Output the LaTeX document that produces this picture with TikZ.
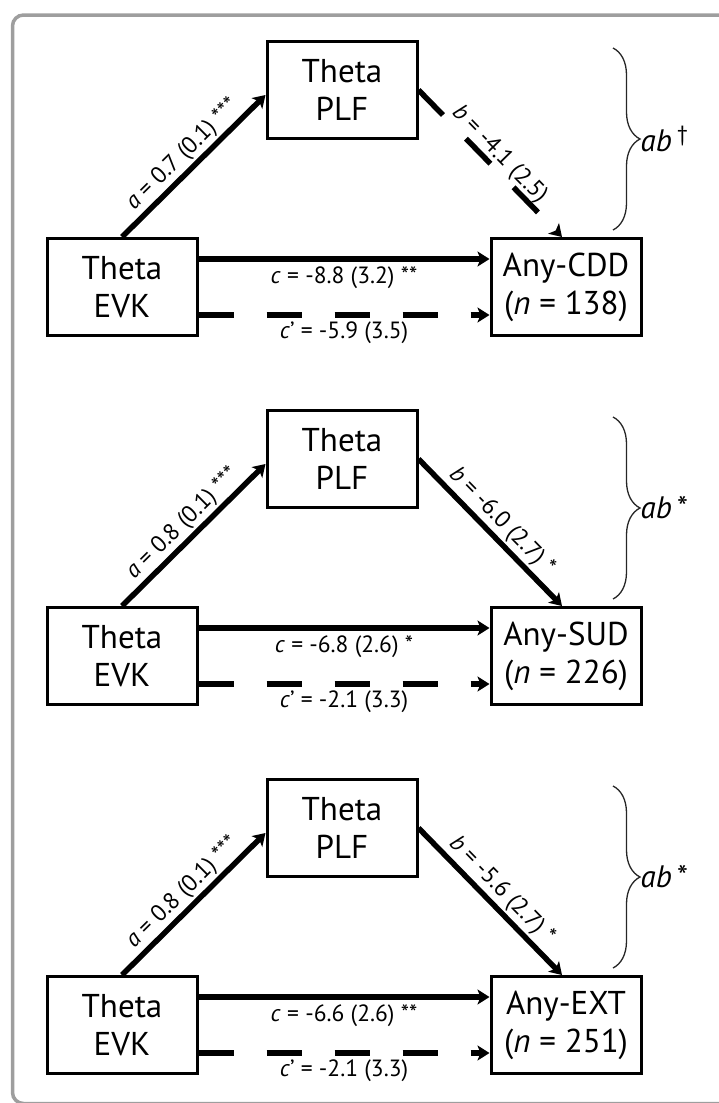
\documentclass[tikz,border=0pt]{standalone}
\usepackage{fontspec}
\setmainfont{PT Sans}
\usetikzlibrary{arrows.meta,decorations.pathreplacing}

\begin{document}
\begin{tikzpicture}[x=1pt, y=-1pt,
  box/.style={draw, line width=3pt, minimum width=150pt, minimum height=97pt,
    align=center, inner sep=0pt, font=\fontsize{33}{38}\selectfont},
  link/.style={line width=5.5pt, -{Stealth[length=12pt, width=15pt, inset=3pt]}},
  linkdash/.style={link, dash pattern=on 35pt off 33pt},
  lab/.style={font=\fontsize{23.5}{26}\selectfont, inner sep=1pt},
  brace/.style={decorate, decoration={brace, amplitude=27pt}, line width=1.3pt, black!85},
  abtext/.style={font=\fontsize{31}{34}\selectfont\itshape, inner sep=1pt, black}]

% 边框
\useasboundingbox (0,0) rectangle (719,1103);
\begin{scope}
  \clip (0,0) rectangle (719,1103);
  \draw[black!38, line width=3.5pt, rounded corners=11pt] (12.5,15) rectangle (740,1103.5);
\end{scope}

% 第一组
\node[box] (plfA) at (342,90) {Theta\\PLF};
\node[box] (evkA) at (122,287) {Theta\\EVK};
\node[box] (cddA) at (566,287) {Any-CDD\\(\textit{n} = 138)};
\draw[link] (evkA.north) -- ([yshift=-5pt]plfA.west)
  node[lab, midway, above=1pt, sloped] (aA) {\textit{a} = 0.7 (0.1) ***};
\draw[linkdash] (plfA.east) -- ([xshift=-4pt]cddA.north)
  node[lab, midway, above=-2pt, sloped] (bA) {\textit{b} = -4.1 (2.5)};
\draw[link] ([yshift=28pt]evkA.east) -- ([yshift=28pt]cddA.west)
  node[lab, midway, below=4pt] (cA) {\textit{c} = -8.8 (3.2) **};
\draw[linkdash] ([yshift=-28pt]evkA.east) -- ([yshift=-28pt]cddA.west)
  node[lab, midway, below=3pt] (cpA) {\textit{c}' = -5.9 (3.5)};
\coordinate (brAtop) at (613,48);
\coordinate (brAbot) at (613,230);
\draw[brace] (brAtop) -- (brAbot)
  node[abtext, midway, right=26pt] (abA) {ab\,\raisebox{0.35em}{\upshape\fontsize{22}{22}\selectfont\textdagger}};

% 第二组
\node[box] (plfB) at (342,459) {Theta\\PLF};
\node[box] (evkB) at (122,656) {Theta\\EVK};
\node[box] (sudB) at (566,656) {Any-SUD\\(\textit{n} = 226)};
\draw[link] (evkB.north) -- ([yshift=-5pt]plfB.west)
  node[lab, midway, above=1pt, sloped] (aB) {\textit{a} = 0.8 (0.1) ***};
\draw[link] (plfB.east) -- ([xshift=-4pt]sudB.north)
  node[lab, midway, above=1pt, sloped] (bB) {\textit{b} = -6.0 (2.7) *};
\draw[link] ([yshift=28pt]evkB.east) -- ([yshift=28pt]sudB.west)
  node[lab, midway, below=4pt] (cB) {\textit{c} = -6.8 (2.6) *};
\draw[linkdash] ([yshift=-28pt]evkB.east) -- ([yshift=-28pt]sudB.west)
  node[lab, midway, below=3pt] (cpB) {\textit{c}' = -2.1 (3.3)};
\coordinate (brBtop) at (613,417);
\coordinate (brBbot) at (613,599);
\draw[brace] (brBtop) -- (brBbot)
  node[abtext, midway, right=26pt] (abB) {ab\,\upshape *};

% 第三组
\node[box] (plfC) at (342,828) {Theta\\PLF};
\node[box] (evkC) at (122,1025) {Theta\\EVK};
\node[box] (extC) at (566,1025) {Any-EXT\\(\textit{n} = 251)};
\draw[link] (evkC.north) -- ([yshift=-5pt]plfC.west)
  node[lab, midway, above=1pt, sloped] (aC) {\textit{a} = 0.8 (0.1) ***};
\draw[link] (plfC.east) -- ([xshift=-4pt]extC.north)
  node[lab, midway, above=1pt, sloped] (bC) {\textit{b} = -5.6 (2.7) *};
\draw[link] ([yshift=28pt]evkC.east) -- ([yshift=28pt]extC.west)
  node[lab, midway, below=4pt] (cC) {\textit{c} = -6.6 (2.6) **};
\draw[linkdash] ([yshift=-28pt]evkC.east) -- ([yshift=-28pt]extC.west)
  node[lab, midway, below=3pt] (cpC) {\textit{c}' = -2.1 (3.3)};
\coordinate (brCtop) at (613,786);
\coordinate (brCbot) at (613,968);
\draw[brace] (brCtop) -- (brCbot)
  node[abtext, midway, right=26pt] (abC) {ab\,\upshape *};

\end{tikzpicture}
\end{document}
